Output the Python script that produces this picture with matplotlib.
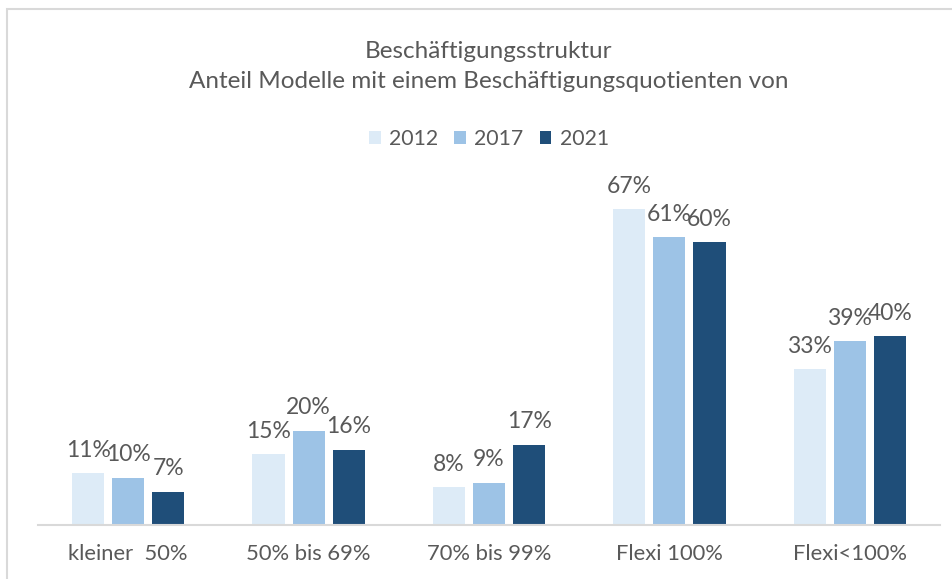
import numpy as np
import matplotlib.pyplot as plt
from matplotlib.patches import Rectangle, Patch

plt.rcParams['font.family'] = ['Lato', 'DejaVu Sans']

categories = ['kleiner  50%', '50% bis 69%', '70% bis 99%', 'Flexi 100%', 'Flexi<100%']
years = ['2012', '2017', '2021']
v2012 = [11, 15, 8, 67, 33]
v2017 = [10, 20, 9, 61, 39]
v2021 = [7, 16, 17, 60, 40]
colors = ['#DDEBF7', '#9DC3E6', '#1F4E79']
txt = '#595959'

W, H = 953, 579
fig = plt.figure(figsize=(W / 100, H / 100), dpi=100)
# chart frame (only top and left edges visible)
fig.patches.append(Rectangle((7 / W, -0.1), 1.2, 1 - 9.5 / H + 0.1, transform=fig.transFigure,
                             fill=False, edgecolor='#D9D9D9', lw=1.5, zorder=0))

ax = fig.add_axes([38 / W, 1 - 525 / H, (940 - 38) / W, (525 - 171.3) / H])
x = np.arange(len(categories))
bw = 32 / 180
step = 40 / 180
for k, (vals, c) in enumerate(zip([v2012, v2017, v2021], colors)):
    pos = x + (k - 1) * step
    bars = ax.bar(pos, vals, width=bw, color=c, zorder=2)
    for b, v in zip(bars, vals):
        ax.annotate(f'{v}%', (b.get_x() + b.get_width() / 2, v), xytext=(0, 9),
                    textcoords='offset points', ha='center', va='bottom',
                    fontsize=16.5, color=txt)

ax.set_xlim(-0.5, len(categories) - 0.5)
ax.set_ylim(0, 75)
ax.set_xticks(x)
ax.set_xticklabels(categories, fontsize=15.8, color=txt)
ax.tick_params(axis='x', length=0, pad=14)
ax.set_yticks([])
for s in ['top', 'right', 'left']:
    ax.spines[s].set_visible(False)
ax.spines['bottom'].set_color('#D9D9D9')
ax.spines['bottom'].set_linewidth(1.5)

cx = (38 + 940) / 2 / W
fig.text(cx, 1 - 52 / H, 'Beschäftigungsstruktur', ha='center', va='center', fontsize=17.5, color=txt)
fig.text(cx, 1 - 82 / H, 'Anteil Modelle mit einem Beschäftigungsquotienten von', ha='center', va='center',
         fontsize=17.5, color=txt)

handles = [Patch(facecolor=c) for c in colors]
fig.legend(handles, years, loc='center', bbox_to_anchor=(cx, 1 - 139 / H), ncol=3, frameon=False,
           fontsize=15.3, labelcolor=txt, handlelength=0.55, handleheight=0.55, handletextpad=0.4,
           columnspacing=0.75)

fig.savefig('out.png', dpi=100)
